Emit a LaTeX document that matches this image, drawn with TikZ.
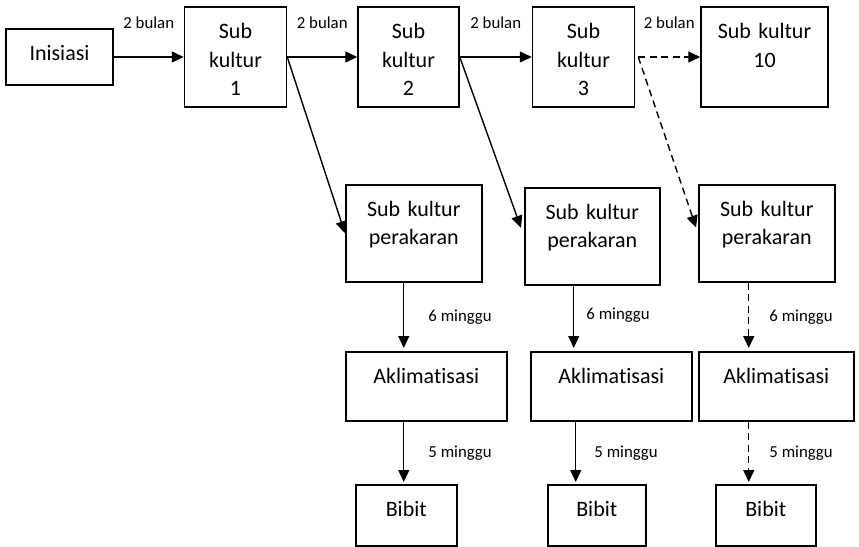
\documentclass[tikz,border=0pt]{standalone}
\usepackage{fontspec}
\setmainfont{Carlito}[Ligatures=NoCommon]
\usepackage{tikz}
\usetikzlibrary{arrows.meta,positioning}
\newcommand{\blkfont}{\fontsize{22}{28.5}\selectfont}
\newcommand{\lblfont}{\fontsize{16.8}{19}\selectfont}
\tikzset{
    blk/.style 2 args={rectangle, draw, line width=1.5pt, inner sep=0pt,
                align=center, text width=#1, text height=31.5pt, text depth=#2,
                font=\blkfont},
    arr/.style={-{Triangle[length=12pt,width=11pt]}, line width=1.4pt},
    dsh/.style={dash pattern=on 7pt off 4.5pt},
    lbl/.style={font=\lblfont, inner sep=0pt},
}
\begin{document}
\begin{tikzpicture}[x=1pt, y=-1pt, node distance=70pt]
    \useasboundingbox (0,0) rectangle (859,546);
    % top row: subculture chain
    \node[blk={107pt}{24.5pt}]                  (ini)  at (59.5,57) {Inisiasi};
    \node[blk={102pt}{68.5pt}, right=of ini]    (sk1)  {Sub\\kultur\\1};
    \node[blk={101pt}{68.5pt}, right=of sk1]    (sk2)  {Sub\\kultur\\2};
    \node[blk={102pt}{68.5pt}, right=72pt of sk2] (sk3) {Sub\\kultur\\3};
    \node[blk={127pt}{68.5pt}, right=65pt of sk3] (sk10) {Sub kultur\\10};

    % rooting, acclimatisation, seedlings
    \node[blk={136pt}{65.5pt}, anchor=north west] (per1) at (345,184) {Sub kultur\\perakaran};
    \node[blk={135pt}{65.5pt}, anchor=north west] (per2) at (524,187) {Sub kultur\\perakaran};
    \node[blk={136pt}{65.5pt}, anchor=north west] (per3) at (698,184) {Sub kultur\\perakaran};

    \node[blk={161pt}{37.5pt}, anchor=north west] (akl1) at (345,351) {Aklimatisasi};
    \node[blk={161pt}{37.5pt}, anchor=north west] (akl2) at (530,351) {Aklimatisasi};
    \node[blk={155pt}{37.5pt}, anchor=north west] (akl3) at (698,351) {Aklimatisasi};

    \node[blk={101pt}{29.5pt}, anchor=north west] (bib1) at (355,484) {Bibit};
    \node[blk={98pt}{29.5pt},  anchor=north west] (bib2) at (547,484) {Bibit};
    \node[blk={100pt}{29.5pt}, anchor=north west] (bib3) at (715,484) {Bibit};

    \draw[arr] (ini.east) -- (sk1.west) node[midway, above=28pt, lbl]{2 bulan};
    \draw[arr] (sk1.east) -- (sk2.west) node[midway, above=28pt, lbl]{2 bulan};
    \draw[arr] (sk2.east) -- (sk3.west) node[midway, above=28pt, lbl]{2 bulan};
    \draw[arr, dsh] ([xshift=3pt]sk3.east) -- (sk10.west) node[midway, above=28pt, lbl]{2 bulan};

    \draw[arr] (sk1.east) -- (per1.west);
    \draw[arr, shorten >=9pt] (sk2.east) -- (per2.west);
    \draw[arr, dsh, shorten >=6pt] ([xshift=3pt]sk3.east) -- (per3.west);

    \draw[arr, shorten >=3pt] ([xshift=-10pt]per1.south) -- ([xshift=-10pt]per1.south |- akl1.north)
        node[midway, right=24pt, lbl]{6 minggu};
    \draw[arr, shorten >=3pt] ([xshift=-18.5pt]per2.south) -- ([xshift=-18.5pt]per2.south |- akl2.north)
        node[pos=0.45, right=12pt, lbl]{6 minggu};
    \draw[arr, dsh, shorten >=3pt] ([xshift=-18pt]per3.south) -- ([xshift=-18pt]per3.south |- akl3.north)
        node[midway, right=20pt, lbl]{6 minggu};

    \draw[arr, shorten >=2pt] ([xshift=-22.5pt]akl1.south) -- ([xshift=-22.5pt]akl1.south |- bib1.north)
        node[midway, right=24pt, lbl]{5 minggu};
    \draw[arr, shorten >=2pt] ([xshift=-35.5pt]akl2.south) -- ([xshift=-35.5pt]akl2.south |- bib2.north)
        node[midway, right=18pt, lbl]{5 minggu};
    \draw[arr, dsh, shorten >=2pt] ([xshift=-27.5pt]akl3.south) -- ([xshift=-27.5pt]akl3.south |- bib3.north)
        node[midway, right=20pt, lbl]{5 minggu};
\end{tikzpicture}
\end{document}
